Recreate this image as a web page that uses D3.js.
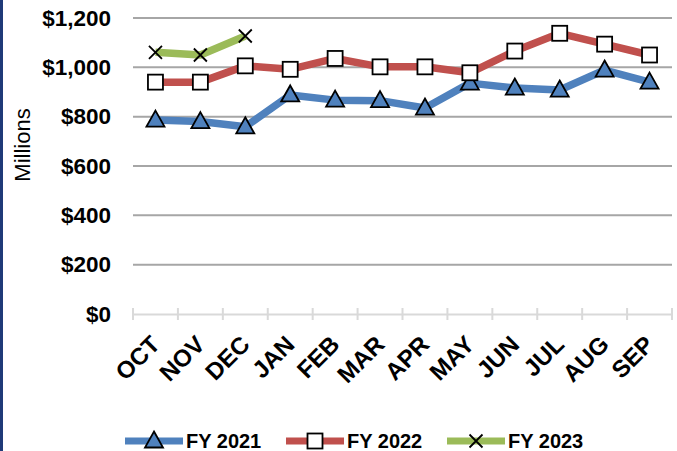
<!DOCTYPE html>
<html>
<head>
<meta charset="utf-8">
<script src="https://cdn.jsdelivr.net/npm/d3@7"></script>
<style>
  body { margin: 0; background: #fff; }
  svg { display: block; font-family: "Liberation Sans", Arial, sans-serif; }
</style>
</head>
<body>
<div id="chart"></div>
<script>
var months = ["OCT", "NOV", "DEC", "JAN", "FEB", "MAR", "APR", "MAY", "JUN", "JUL", "AUG", "SEP"];
var yTicks = [0, 200, 400, 600, 800, 1000, 1200];

var fy2021 = [786, 780, 759, 888, 867, 865, 835, 936, 916, 908, 989, 940];
var fy2022 = [940, 940, 1006, 992, 1036, 1002, 1002, 978, 1066, 1138, 1094, 1050];
var fy2023 = [1061, 1050, 1127];

var seriesNames = ["FY 2021", "FY 2022", "FY 2023"];
var seriesColors = ["#4f81bd", "#c0504d", "#9bbb59"];
var seriesMarkers = ["triangle", "square", "cross"];

var width = 677, height = 451;
var margin = {top: 18, right: 5, bottom: 137, left: 133};
var innerW = width - margin.left - margin.right;
var innerH = height - margin.top - margin.bottom;

var svg = d3.select("#chart").append("svg")
    .attr("width", width)
    .attr("height", height);

// navy frame edge on the left
svg.append("rect")
    .attr("x", 0).attr("y", 0)
    .attr("width", 3).attr("height", height)
    .attr("fill", "#1f3a78");

var g = svg.append("g")
    .attr("transform", "translate(" + margin.left + "," + margin.top + ")");

var xScale = d3.scaleBand()
    .domain(months)
    .range([0, innerW]);

var yScale = d3.scaleLinear()
    .domain([0, 1200])
    .range([innerH, 0]);

// gridlines
g.selectAll("line.grid")
    .data(yTicks.filter(function(d){ return d > 0; }))
    .enter().append("line")
    .attr("class", "grid")
    .attr("x1", 0).attr("x2", innerW)
    .attr("y1", function(d){ return yScale(d); })
    .attr("y2", function(d){ return yScale(d); })
    .attr("stroke", "#a6a6a6")
    .attr("stroke-width", 2);

// y labels
var yAxis = d3.axisLeft(yScale)
    .tickValues(yTicks)
    .tickSize(0)
    .tickPadding(22)
    .tickFormat(function(d){ return "$" + d3.format(",")(d); });

var yG = g.append("g").call(yAxis);
yG.select(".domain").remove();
yG.selectAll("text")
    .style("font-family", "Liberation Sans, Arial, sans-serif")
    .style("font-size", "22.5px")
    .style("font-weight", "bold")
    .attr("fill", "#000");

// x axis with cross ticks
var xAxis = d3.axisBottom(xScale).tickSize(0).tickFormat("");
var xG = g.append("g")
    .attr("transform", "translate(0," + innerH + ")")
    .call(xAxis);
xG.select(".domain")
    .attr("stroke", "#d9d9d9")
    .attr("stroke-width", 2);

var tickPos = months.map(function(m){ return xScale(m); }).concat([innerW]);
xG.selectAll("line.xtick")
    .data(tickPos)
    .enter().append("line")
    .attr("class", "xtick")
    .attr("x1", function(d){ return d; })
    .attr("x2", function(d){ return d; })
    .attr("y1", -6).attr("y2", 6)
    .attr("stroke", "#d9d9d9")
    .attr("stroke-width", 2);

xG.selectAll("text.xlab")
    .data(months)
    .enter().append("text")
    .attr("class", "xlab")
    .attr("transform", function(d){
      return "translate(" + (xScale(d) + xScale.bandwidth()/2 - 6) + ",20) rotate(-45)";
    })
    .attr("text-anchor", "end")
    .attr("dy", "0.7em")
    .style("font-size", "24px")
    .style("font-weight", "bold")
    .attr("fill", "#000")
    .text(function(d){ return d; });

// y axis title
svg.append("text")
    .attr("transform", "translate(30," + (margin.top + 127) + ") rotate(-90)")
    .attr("text-anchor", "middle")
    .style("font-size", "22px")
    .attr("fill", "#000")
    .text("Millions");

// lines
var allSeries = [fy2021, fy2022, fy2023];
var line = d3.line()
    .x(function(d, i){ return xScale(months[i]) + xScale.bandwidth()/2; })
    .y(function(d){ return yScale(d); });

allSeries.forEach(function(vals, si){
  g.append("path")
      .datum(vals)
      .attr("fill", "none")
      .attr("stroke", seriesColors[si])
      .attr("stroke-width", 7.5)
      .attr("stroke-linejoin", "round")
      .attr("d", line);
});

function drawMarker(parent, type, x, y, color){
  if(type == "triangle"){
    parent.append("path")
      .attr("d", "M" + x + "," + (y - 9.5) + "L" + (x + 9) + "," + (y + 6.5) + "L" + (x - 9) + "," + (y + 6.5) + "Z")
      .attr("fill", color)
      .attr("stroke", "#000")
      .attr("stroke-width", 1.8);
  } else if(type == "square"){
    parent.append("rect")
      .attr("x", x - 7.5).attr("y", y - 7.5)
      .attr("width", 15).attr("height", 15)
      .attr("fill", "#fff")
      .attr("stroke", "#000")
      .attr("stroke-width", 1.8);
  } else {
    parent.append("path")
      .attr("d", "M" + (x - 6.5) + "," + (y - 6.5) + "L" + (x + 6.5) + "," + (y + 6.5) +
                 "M" + (x + 6.5) + "," + (y - 6.5) + "L" + (x - 6.5) + "," + (y + 6.5))
      .attr("stroke", "#000")
      .attr("stroke-width", 1.8);
  }
}

allSeries.forEach(function(vals, si){
  vals.forEach(function(v, i){
    drawMarker(g, seriesMarkers[si], xScale(months[i]) + xScale.bandwidth()/2, yScale(v), seriesColors[si]);
  });
});

// legend
var legendX = [125, 286, 447];
var legendY = 441;
seriesNames.forEach(function(name, si){
  var lg = svg.append("g");
  lg.append("line")
    .attr("x1", legendX[si]).attr("x2", legendX[si] + 58)
    .attr("y1", legendY).attr("y2", legendY)
    .attr("stroke", seriesColors[si])
    .attr("stroke-width", 7);
  drawMarker(lg, seriesMarkers[si], legendX[si] + 29, legendY, seriesColors[si]);
  lg.append("text")
    .attr("x", legendX[si] + 61)
    .attr("y", legendY + 7)
    .style("font-size", "20px")
    .style("font-weight", "bold")
    .attr("fill", "#000")
    .text(name);
});
</script>
</body>
</html>
